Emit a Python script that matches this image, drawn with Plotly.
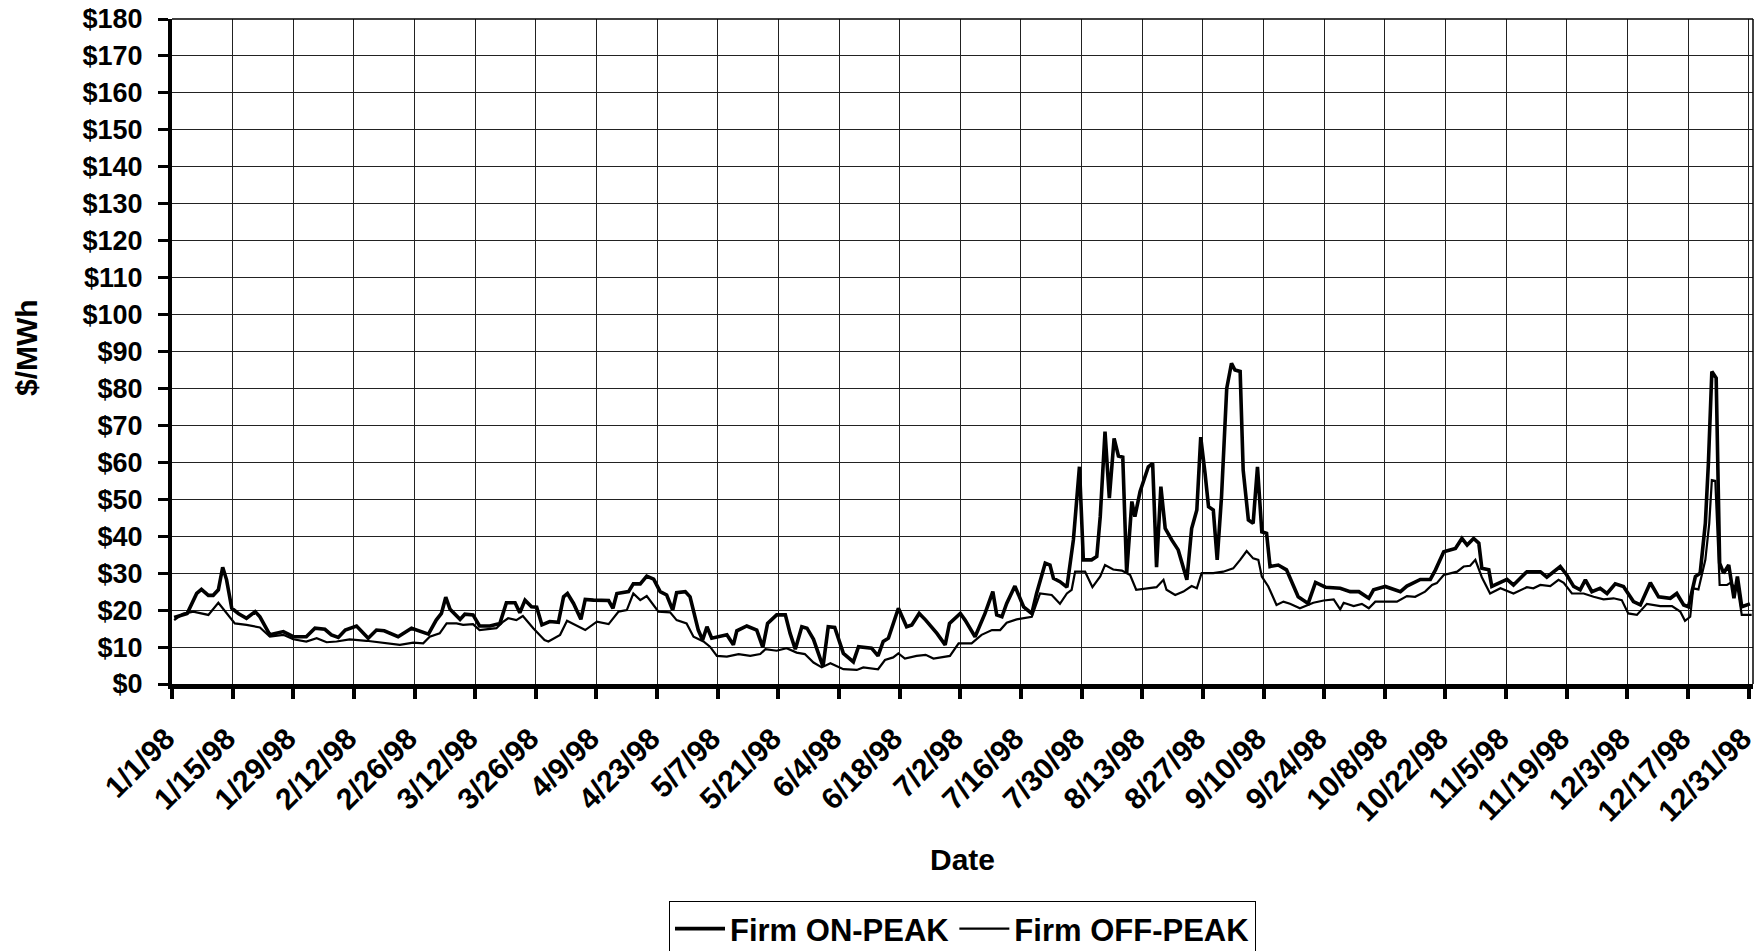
import pandas as pd
import plotly.graph_objects as go

# day offsets from 1998-01-01 and $/MWh values
on_days = [0.5, 2, 3.5, 5.7, 6.8, 8.4, 9.5, 10.7, 11.7, 12.6, 13.8, 15.3, 17.2, 19.2, 20.3, 22.6, 25.7, 28, 31, 33,
           35.3, 36.8, 38.4, 40, 42.6, 45.3, 47.2, 49, 52.2, 55.3, 57.2, 59.2, 61, 62.2, 63.2, 64.2, 66.5, 67.6, 69.5, 71,
           73.4, 75.7, 77.2, 79.2, 80.3, 81.5, 83, 84.2, 85.4, 87.2, 89.2, 90.4, 91.3, 92.7, 94.4, 95.4, 97.3, 100.8, 101.8, 102.7,
           105.4, 106.5, 108.1, 109.6, 111.2, 112.7, 114.2, 115.6, 116.5, 118.5, 119.6, 121.5, 122.5, 123.5, 124.6, 126.2, 128.1, 129.6, 130.4, 132.7,
           135, 136.4, 137.5, 139.6, 141.6, 142.7, 143.9, 145.4, 146.6, 148.1, 150.3, 151.5, 153, 155, 157.3, 158.5, 160.4, 161.5, 163, 164.2,
           165.4, 167.7, 169.6, 170.8, 172.5, 174, 176.6, 178.5, 179.5, 182, 183.1, 185.4, 187.7, 189.5, 190.4, 191.6, 192.7, 194.6, 196.6, 198.5,
           199.6, 200.8, 201.6, 202.7, 203.5, 205, 206.6, 208.1, 209.5, 210.4, 212.3, 213.5, 214.3, 215.4, 216.4, 217.5, 218.5, 219.5, 220.4, 221.6,
           222.3, 223.5, 225.4, 226.4, 227.3, 228.3, 229.3, 230.8, 232.3, 234.3, 235.4, 236.6, 237.5, 238.5, 239.3, 240.4, 241.3, 242.3, 243.5, 244.6,
           245.4, 246.6, 247.3, 248.5, 249.6, 250.6, 251.6, 252.7, 253.5, 255.4, 257.3, 260, 262.3, 264, 266.3, 269.7, 272, 274, 276.3, 277.4,
           280.1, 283.6, 285.1, 288.2, 290.5, 291.7, 293.6, 296.3, 297.8, 299, 300.5, 301.7, 302.4, 304, 304.7, 308.2, 309.7, 312.8, 315.9, 317.4,
           320.5, 322, 323.6, 325.1, 326.3, 327.8, 329.7, 331.3, 333.2, 335.1, 337.4, 339, 341.3, 343.2, 345.9, 347.4, 349, 350.1, 351.7, 352.8,
           354, 354.7, 355.5, 356.5, 357.3, 358.2, 359.4, 360.6, 361.4, 362.4, 364.3]
on_values = [18, 18.5, 19.1, 24.5, 25.6, 24, 24, 25.5, 31.6, 28.2, 20.5, 19.1, 17.8, 19.6, 18.2, 13.3, 14.2, 12.8, 12.8, 15.1,
             14.8, 13.3, 12.6, 14.6, 15.7, 12.4, 14.6, 14.4, 12.8, 15.1, 14.2, 13.5, 17.3, 19.1, 23.5, 20.2, 17.5, 18.9, 18.7, 15.7,
             15.7, 16.4, 22, 22, 19.3, 22.7, 20.9, 20.8, 16, 16.9, 16.7, 23.6, 24.5, 21.8, 17.5, 22.9, 22.7, 22.6, 20.5, 24.5,
             25, 27.1, 27.1, 29.2, 28.4, 25, 24.1, 20, 24.7, 25, 23.6, 14.6, 11.9, 15.5, 12.4, 12.8, 13.3, 10.6, 14.4, 15.7,
             14.6, 9.9, 16.4, 18.7, 18.7, 13.7, 9.4, 15.5, 15.1, 12.1, 4.7, 15.5, 15.3, 8.3, 6, 10.1, 9.9, 9.7, 7.6, 11.5,
             12.4, 20.5, 15.5, 16, 19.1, 17.3, 13.7, 10.6, 16.4, 19.1, 17.3, 12.8, 19.1, 25, 18.7, 18.2, 21.8, 26.5, 20.9, 19.1,
             24.5, 29.1, 32.7, 32.2, 28.6, 27.7, 26.2, 39, 58.8, 33.6, 33.6, 34.5, 45.3, 68.3, 50.3, 66.5, 61.7, 61.4, 30, 49.4,
             45.3, 52.1, 58.8, 59.7, 31.6, 53.4, 42.1, 39, 36.3, 28.2, 42.1, 47.1, 66.8, 57, 48, 47.1, 33.6, 50.7, 80, 86.8,
             85, 84.6, 57.9, 44.4, 43.5, 58.8, 41.2, 40.8, 31.8, 32.2, 30.9, 23.6, 21.8, 27.5, 26.2, 25.9, 25, 25, 23.2, 25.5,
             26.4, 25, 26.5, 28.3, 28.3, 30.9, 35.8, 36.7, 39.4, 37.6, 39.4, 38.1, 31.3, 30.9, 26.4, 28.3, 26.8, 30.4, 30.4, 28.9,
             31.8, 29.5, 26.4, 25.5, 28.2, 25, 25.9, 24.5, 27.1, 26.4, 22.3, 21.4, 27.4, 23.6, 23.2, 24.5, 21.4, 20.9, 29.1, 30,
             43.5, 59.7, 84.6, 82.8, 32.7, 30, 32.2, 23.2, 29.1, 20.9, 21.7]

off_days = [0.5, 2.5, 4.9, 8.4, 10.7, 12.6, 14.5, 17.2, 20.3, 22.6, 25.7, 28, 31, 33.4, 35.7, 38, 41, 44.9, 48.8, 52.6,
            55.7, 58, 59.5, 61.8, 63.4, 65.7, 67.2, 69.5, 71, 74.9, 76.5, 77.6, 79.5, 81, 83.4, 86, 86.9, 89.6, 91.2, 93.5,
            95.4, 98.1, 100.8, 103.1, 105, 106.5, 108.1, 109.6, 110.8, 112.3, 115, 116.5, 118.8, 120.4, 122.7, 124.2, 125.8, 128.1, 130.8, 133.5,
            135.8, 137, 139.6, 141.9, 144.2, 146.1, 148.1, 150, 152, 155, 158.1, 159.6, 163, 164.6, 166.5, 167.7, 169.2, 171.9, 174, 175.8,
            179.6, 181.6, 184.6, 186.9, 189.3, 191.2, 192.7, 195, 198.5, 200.4, 203.1, 205, 206.6, 207.7, 208.5, 210.8, 212.5, 214.3, 215.4, 217.3,
            219.3, 221.2, 222.6, 225, 227.3, 228.9, 229.6, 231.6, 233.5, 235.4, 236.6, 237.7, 240.4, 242.7, 245, 246.6, 248.1, 249.6, 250.8, 251.6,
            253.1, 255, 256.6, 258.1, 260.4, 263.5, 265.9, 268.2, 269.7, 270.5, 272.8, 274.7, 276.3, 277.8, 280.5, 282.8, 285.1, 287, 289.3, 290.9,
            292, 293.6, 296.7, 298.2, 299.7, 300.9, 302.4, 304.3, 306.7, 309.7, 312.8, 314.3, 315.9, 318.2, 320.1, 321.3, 323.2, 325.9, 328.2, 330.5,
            332.8, 334.7, 336.2, 338.2, 340.5, 343.6, 346.3, 348.2, 349.3, 350.5, 351.2, 352.4, 354, 354.9, 355.5, 356.3, 357.3, 359, 359.7, 360.6,
            361.4, 362.4, 364.7]
off_values = [17.3, 19, 19.6, 18.7, 22, 19.1, 16.4, 16, 15.3, 12.8, 13.3, 12.1, 11.5, 12.4, 11.3, 11.5, 12.1, 11.7, 11.2, 10.6,
              11.2, 11, 12.8, 13.7, 16.4, 16.4, 16, 16.2, 14.6, 15.1, 16.9, 17.8, 17.3, 18.4, 15.1, 11.9, 11.5, 13.3, 17.1, 15.7,
              14.6, 16.9, 16.2, 19.6, 20, 24.5, 22.7, 23.8, 22, 19.6, 19.4, 17.3, 16.4, 12.8, 11.5, 10.1, 7.6, 7.4, 8.1, 7.6,
              8.1, 9.4, 9, 9.7, 8.5, 8.1, 5.8, 4.5, 5.6, 4, 3.8, 4.5, 4, 6.5, 7.2, 8.3, 6.9, 7.6, 7.9, 6.9,
              7.6, 11, 11, 13.3, 14.6, 14.6, 16.6, 17.5, 18.2, 24.5, 24.1, 21.7, 24.5, 25.5, 30.4, 30.4, 26.2, 29.1, 32.2, 31,
              30.7, 29.5, 25.5, 25.9, 26.2, 28.2, 25.5, 24.1, 25, 26.5, 25.9, 30, 30, 30.4, 31.3, 33.6, 36, 34, 33.6, 29.1,
              26.4, 21.4, 22.3, 21.7, 20.5, 22, 22.6, 22.9, 20.2, 22, 21.1, 21.7, 20.5, 22.3, 22.3, 22.3, 23.8, 23.6, 25, 26.8,
              27.3, 29.5, 30.4, 31.8, 32, 33.6, 28.9, 24.5, 25.9, 24.5, 26.2, 25.9, 26.8, 26.5, 28.2, 27.4, 24.5, 24.5, 23.6, 22.9,
              23.2, 22.7, 19.1, 18.7, 21.7, 21.1, 21.1, 19.6, 17.1, 18.2, 25.9, 25.6, 33.6, 43.5, 55.2, 55, 26.8, 26.8, 27.3, 26.5,
              26.4, 18.7, 18.7]

tick_labels = ["1/1/98", "1/15/98", "1/29/98", "2/12/98", "2/26/98", "3/12/98", "3/26/98", "4/9/98", "4/23/98",
               "5/7/98", "5/21/98", "6/4/98", "6/18/98", "7/2/98", "7/16/98", "7/30/98", "8/13/98", "8/27/98",
               "9/10/98", "9/24/98", "10/8/98", "10/22/98", "11/5/98", "11/19/98", "12/3/98", "12/17/98", "12/31/98"]
y_ticks = list(range(0, 181, 10))

start = pd.Timestamp("1998-01-01")
on_dates = start + pd.to_timedelta(on_days, unit="D")
off_dates = start + pd.to_timedelta(off_days, unit="D")
tick_dates = [pd.Timestamp(f"{t.split('/')[0]}/{t.split('/')[1]}/1998") for t in tick_labels]

FONT = "Liberation Sans, Arial, sans-serif"
W, H = 1761, 951
ML, MR, MT, MB = 172, 8, 19, 267
PW, PH = W - ML - MR, H - MT - MB

fig = go.Figure()
fig.add_trace(go.Scatter(x=on_dates, y=on_values, mode="lines", name="<b>Firm ON-PEAK</b>",
                         line=dict(color="black", width=3.6)))
fig.add_trace(go.Scatter(x=off_dates, y=off_values, mode="lines", name="<b>Firm OFF-PEAK</b>",
                         line=dict(color="black", width=2.2)))

fig.update_layout(
    width=W, height=H,
    margin=dict(l=ML, r=MR, t=MT, b=MB, autoexpand=False),
    paper_bgcolor="white", plot_bgcolor="white",
    font=dict(family=FONT, color="black"),
    showlegend=True,
    legend=dict(orientation="h", x=0.5, xanchor="center", yref="container", y=(H - 901) / H, yanchor="top",
                bordercolor="black", borderwidth=1, bgcolor="white",
                font=dict(size=31, family=FONT), itemwidth=50, tracegroupgap=0),
    xaxis=dict(
        range=[start, pd.Timestamp("1999-01-01")],
        tickvals=tick_dates, ticktext=[f"<b>{t}</b>" for t in tick_labels],
        tickangle=-45, tickfont=dict(size=30, family=FONT), ticklabelstandoff=10,
        ticklabelshift=-6, ticklabeloverflow="allow",
        ticks="outside", ticklen=10, tickwidth=4, tickcolor="black",
        showgrid=True, gridcolor="#222", gridwidth=1,
        showline=True, linecolor="black", linewidth=5,
        zeroline=False, automargin=False,
    ),
    yaxis=dict(
        range=[0, 180],
        tickvals=y_ticks, ticktext=[f"<b>${v}</b>" for v in y_ticks],
        tickfont=dict(size=27, family=FONT), ticklabelstandoff=10, ticklabeloverflow="allow",
        ticks="outside", ticklen=10, tickwidth=3, tickcolor="black",
        showgrid=True, gridcolor="#222", gridwidth=1,
        showline=True, linecolor="black", linewidth=4,
        zeroline=False, automargin=False,
    ),
    annotations=[
        dict(text="<b>Date</b>", xref="paper", yref="paper", x=0.5, y=(H - MB - 859) / PH,
             xanchor="center", yanchor="middle", showarrow=False, font=dict(size=30, family=FONT)),
        dict(text="<b>$/MWh</b>", xref="paper", yref="paper", x=(26 - ML) / PW, y=(H - MB - 348) / PH,
             xanchor="center", yanchor="middle", textangle=-90, showarrow=False, font=dict(size=30, family=FONT)),
    ],
    shapes=[
        dict(type="line", xref="paper", yref="paper", x0=1, x1=1, y0=0, y1=1, line=dict(color="black", width=1.5)),
        dict(type="line", xref="paper", yref="paper", x0=0, x1=1, y0=1, y1=1, line=dict(color="black", width=1.5)),
    ],
)

# remove the browser's default 8px body margin so the figure fills the window exactly
fig.write_html("out.html", config={"displayModeBar": False},
               post_script="document.body.style.margin='0';")
